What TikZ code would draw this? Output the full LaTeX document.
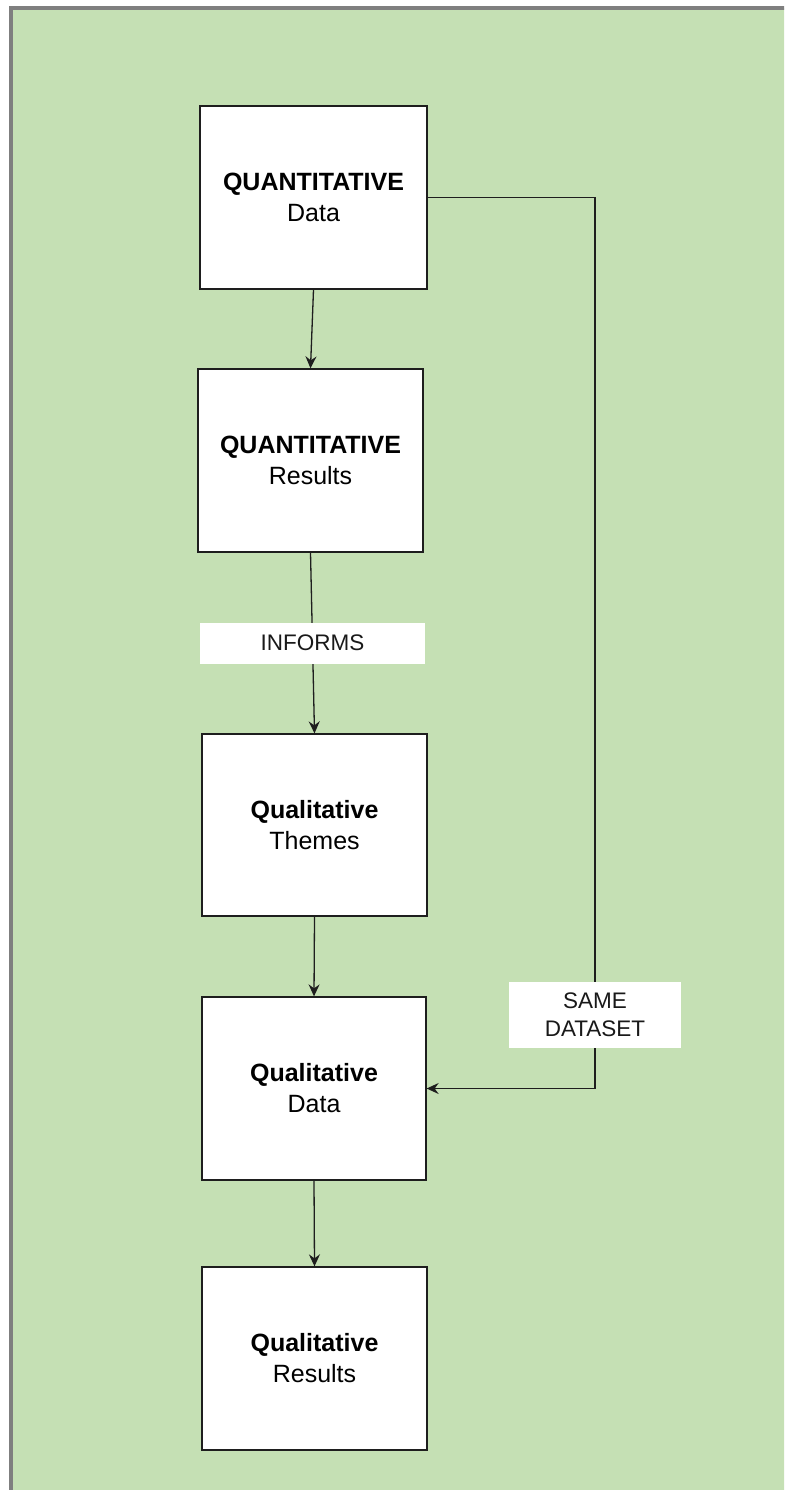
\documentclass[tikz,border=0pt]{standalone}
\usepackage{fontspec}
\setmainfont{Liberation Sans}
\usetikzlibrary{arrows.meta}
\definecolor{panelgreen}{HTML}{C5E0B4}
\definecolor{framegray}{HTML}{7F7F7F}
\definecolor{edgedark}{HTML}{1E1E1E}
\tikzset{
  box/.style={draw=edgedark, line width=1.3pt, fill=white, align=center,
    inner sep=0pt, font=\fontsize{25}{31}\selectfont},
  lbl/.style={fill=white, align=center, inner sep=0pt,
    font=\fontsize{22.5}{28}\selectfont, text=black!90},
  arr/.style={draw=edgedark, line width=1.3pt,
    -{Stealth[length=12pt,width=11pt,inset=4pt]}}
}
\begin{document}
\begin{tikzpicture}[x=1pt,y=-1pt]
  \useasboundingbox (0,0) rectangle (784,1490);
  \clip (0,0) rectangle (784,1490);
  % page background and framed panel
  \fill[white] (0,0) rectangle (784,1490);
  \draw[framegray, line width=4pt, fill=panelgreen] (11,8) rectangle (800,1510);

  % process boxes
  \node[box, minimum width=227pt, minimum height=183pt] (b1) at (313.5,197.5)
    {\textbf{QUANTITATIVE}\\Data};
  \node[box, minimum width=225pt, minimum height=183pt] (b2) at (310.5,460.5)
    {\textbf{QUANTITATIVE}\\Results};
  \node[box, minimum width=225pt, minimum height=182pt] (b3) at (314.5,825)
    {\textbf{Qualitative}\\Themes};
  \node[box, minimum width=224pt, minimum height=183pt] (b4) at (314,1088.5)
    {\textbf{Qualitative}\\Data};
  \node[box, minimum width=225pt, minimum height=183pt] (b5) at (314.5,1358.5)
    {\textbf{Qualitative}\\Results};

  % bends of the side connector
  \coordinate (c1) at (595,197.5);
  \coordinate (c2) at (595,1088.5);

  % connectors
  \draw[arr] (b1.south) -- (b2.north);
  \draw[arr] (b2.south) -- node[lbl, minimum width=225pt, minimum height=41pt, pos=0.5]
    {INFORMS} (b3.north);
  \draw[arr] (b3.south) -- (b4.north);
  \draw[arr] (b4.south) -- (b5.north);
  \draw[arr] (b1.east) -- (c1) -- node[lbl, minimum width=172pt, minimum height=66pt, pos=0.917]
    {SAME\\DATASET} (c2) -- (b4.east);
\end{tikzpicture}
\end{document}
